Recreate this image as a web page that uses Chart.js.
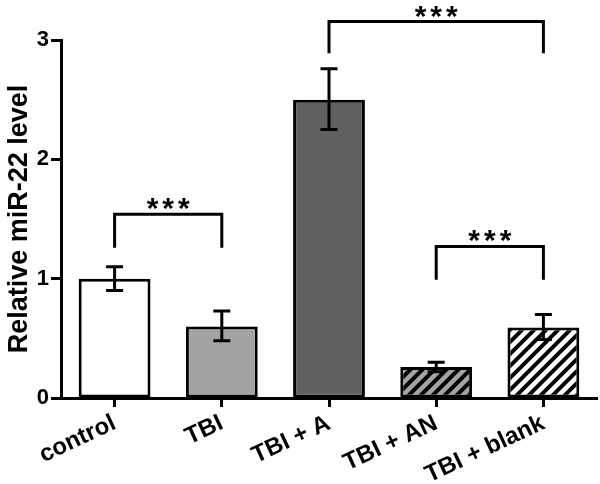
<!DOCTYPE html>
<html>
<head>
<meta charset="utf-8">
<script src="https://cdn.jsdelivr.net/npm/chart.js@4"></script>
<style>
  body { margin: 0; background: #fff; }
  #wrap { width: 600px; height: 484px; position: relative; }
</style>
</head>
<body>
<div id="wrap"><canvas id="barChart"></canvas></div>
<script>
// Relative miR-22 level per group
const groups = ['control', 'TBI', 'TBI + A', 'TBI + AN', 'TBI + blank'];
const means = [1.00, 0.60, 2.50, 0.26, 0.59];
const errLow = [0.90, 0.48, 2.25, 0.22, 0.49];
const errHigh = [1.10, 0.73, 2.76, 0.30, 0.70];
const yTicks = [0, 1, 2, 3];

// significance brackets (group index from/to, top of bracket, end of legs)
const sigFrom = [0, 2, 3];
const sigTo = [1, 4, 4];
const sigTop = [1.54, 3.155, 1.27];
const sigFoot = [1.26, 2.89, 0.99];
const sigText = ['***', '***', '***'];

const FONT = '"Liberation Sans", Arial, sans-serif';

function stripes(bg) {
  const s = 12;
  const c = document.createElement('canvas');
  c.width = s; c.height = s;
  const g = c.getContext('2d');
  g.fillStyle = bg;
  g.fillRect(0, 0, s, s);
  g.strokeStyle = '#000';
  g.lineWidth = 4;
  g.beginPath();
  g.moveTo(-s, 2 * s); g.lineTo(2 * s, -s);
  g.moveTo(-2 * s, 2 * s); g.lineTo(s, -s);
  g.moveTo(0, 2 * s); g.lineTo(3 * s, -s);
  g.stroke();
  return g.createPattern(c, 'repeat');
}

const fills = ['#ffffff', '#a3a3a5', '#606062', stripes('#a3a3a5'), stripes('#ffffff')];

// error bars + significance brackets
const extras = {
  id: 'extras',
  afterDatasetsDraw(chart) {
    const ctx = chart.ctx;
    const x = chart.scales.x, y = chart.scales.y;
    ctx.save();
    ctx.strokeStyle = '#000';
    ctx.lineWidth = 3;
    ctx.lineCap = 'butt';
    means.forEach((m, i) => {
      const px = x.getPixelForValue(i);
      const lo = y.getPixelForValue(errLow[i]);
      const hi = y.getPixelForValue(errHigh[i]);
      ctx.beginPath();
      ctx.moveTo(px, lo); ctx.lineTo(px, hi);
      ctx.moveTo(px - 8.5, lo); ctx.lineTo(px + 8.5, lo);
      ctx.moveTo(px - 8.5, hi); ctx.lineTo(px + 8.5, hi);
      ctx.stroke();
    });
    ctx.fillStyle = '#000';
    ctx.font = 'bold 30px ' + FONT;
    ctx.letterSpacing = '4px';
    ctx.textAlign = 'center';
    ctx.textBaseline = 'alphabetic';
    sigFrom.forEach((a, k) => {
      const x1 = x.getPixelForValue(a);
      const x2 = x.getPixelForValue(sigTo[k]);
      const top = y.getPixelForValue(sigTop[k]);
      const foot = y.getPixelForValue(sigFoot[k]);
      ctx.beginPath();
      ctx.moveTo(x1, foot); ctx.lineTo(x1, top); ctx.lineTo(x2, top); ctx.lineTo(x2, foot);
      ctx.stroke();
      ctx.fillText(sigText[k], (x1 + x2) / 2 + 2, top + 4);
    });
    ctx.restore();
  }
};

const ctx = document.getElementById('barChart').getContext('2d');
new Chart(ctx, {
  type: 'bar',
  data: {
    labels: groups,
    datasets: [{
      data: means,
      backgroundColor: fills,
      borderColor: '#000',
      borderWidth: 3,
      borderSkipped: false,
      categoryPercentage: 1,
      barPercentage: 0.67
    }]
  },
  options: {
    responsive: true,
    maintainAspectRatio: false,
    animation: false,
    layout: { padding: { top: 40, right: 3 } },
    plugins: { legend: { display: false }, tooltip: { enabled: false } },
    scales: {
      x: {
        afterFit: s => { s.height = 86; },
        grid: { offset: false, drawOnChartArea: false, tickLength: 9, tickWidth: 3, tickColor: '#000' },
        border: { color: '#000', width: 3 },
        ticks: {
          color: '#000',
          minRotation: 25,
          maxRotation: 25,
          padding: 2,
          font: { family: FONT, size: 24, weight: 'bold' }
        }
      },
      y: {
        min: 0,
        max: 3,
        afterFit: s => { s.width = 61; },
        afterBuildTicks: s => { s.ticks = yTicks.map(v => ({ value: v })); },
        grid: { drawOnChartArea: false, tickLength: 10, tickWidth: 3, tickColor: '#000' },
        border: { color: '#000', width: 3 },
        ticks: {
          color: '#000',
          padding: 2,
          font: { family: FONT, size: 22, weight: 'bold' }
        },
        title: {
          display: true,
          text: 'Relative miR-22 level',
          color: '#000',
          padding: { top: 3, bottom: 0 },
          font: { family: FONT, size: 27, weight: 'bold' }
        }
      }
    }
  },
  plugins: [extras]
});
</script>
</body>
</html>
